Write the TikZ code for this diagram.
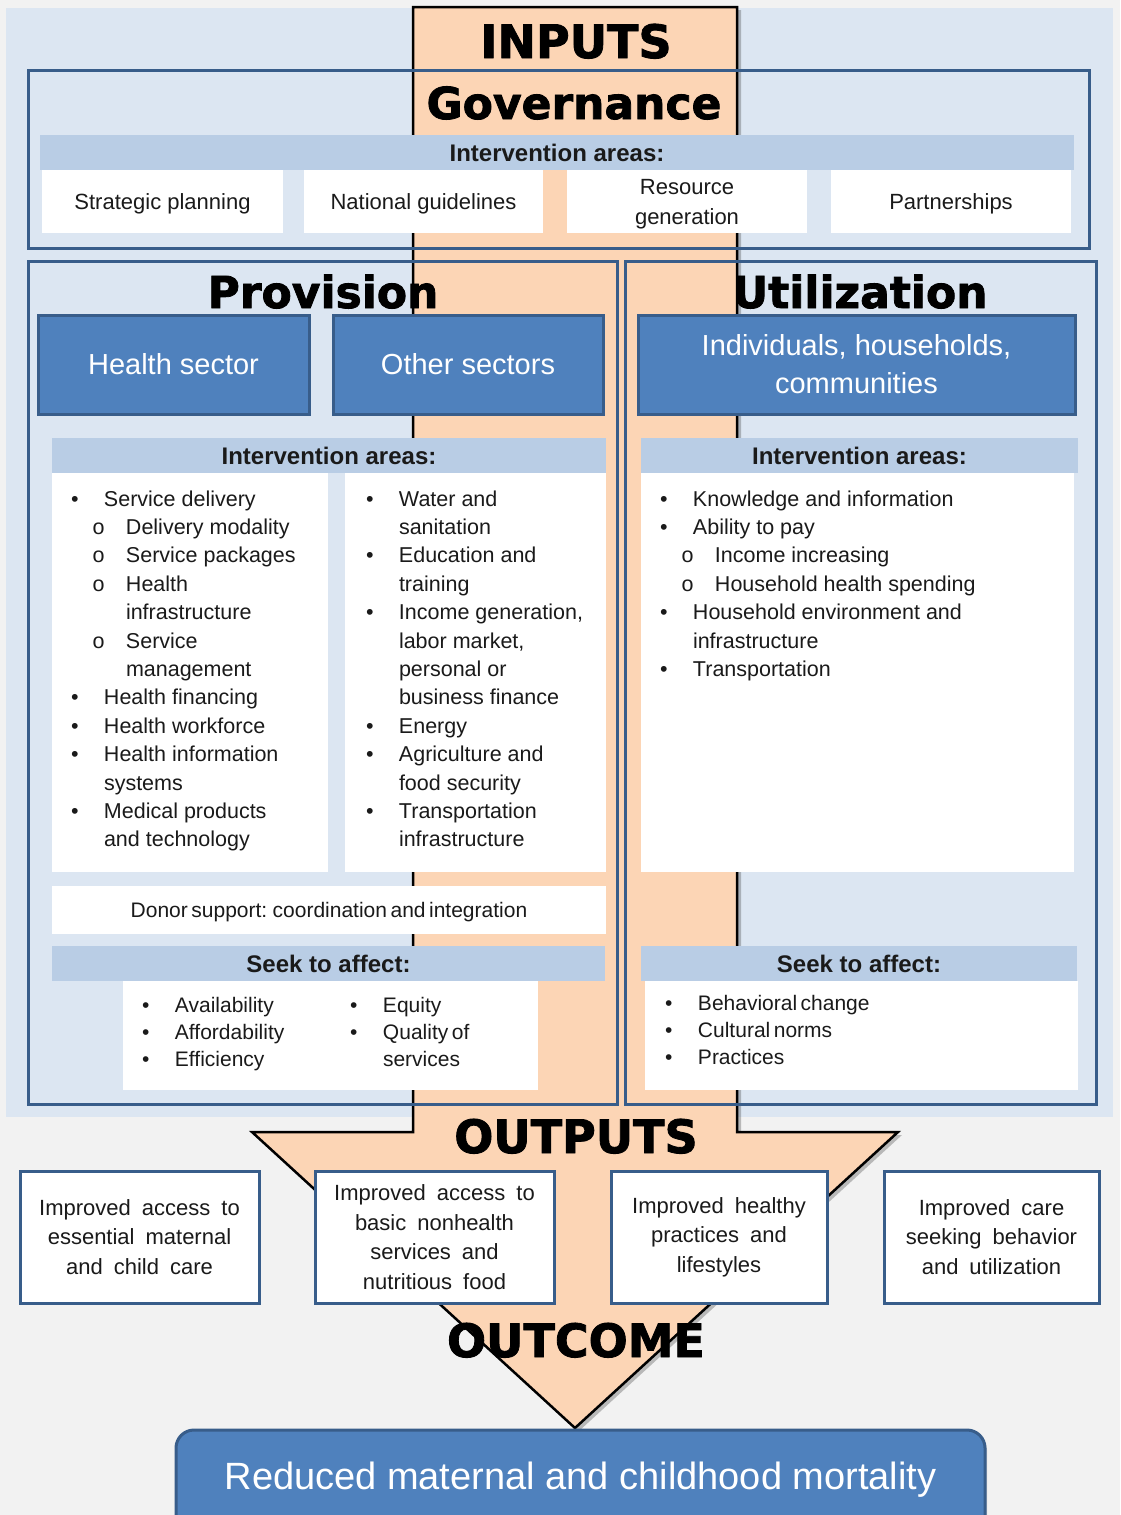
\documentclass[tikz,border=0pt]{standalone}
\usepackage{fontspec}
\setmainfont{Liberation Sans}
\newfontfamily\heavyfont{DejaVu Sans Bold}[FakeBold=1.8]
\newcommand\widesp{\spaceskip=11pt plus 1pt minus 1pt\relax}
\newcommand\tightsp{\spaceskip=3.5pt plus 1pt minus 1pt\relax}
\usetikzlibrary{shadows}
\definecolor{bggray}{HTML}{F2F2F2}
\definecolor{panelblue}{HTML}{DCE6F2}
\definecolor{arroworange}{HTML}{FCD5B5}
\definecolor{stripblue}{HTML}{B9CDE5}
\definecolor{darkblue}{HTML}{385D8A}
\definecolor{midblue}{HTML}{4F81BD}
\definecolor{inktext}{HTML}{1A1A1A}
\newcommand\lbu[1]{\makebox[33pt][l]{•}#1}
\newcommand\lsbu[1]{\hspace*{21.5pt}\makebox[33.5pt][l]{o}#1}
\newcommand\lcn[1]{\hspace*{33pt}#1}
\newcommand\lscn[1]{\hspace*{55pt}#1}
\newcommand\boxnode[6]{\node[#1, minimum width={(#4)-(#2)}, minimum height={(#5)-(#3)}] (#6) at ({((#2)+(#4))/2},{((#3)+(#5))/2})}
\begin{document}
\begin{tikzpicture}[x=1pt,y=-1pt,
  frame/.style={draw=darkblue, line width=3pt, inner sep=0pt, outer sep=0pt},
  bluebox/.style={fill=midblue, draw=darkblue, line width=3pt, text=white, font=\fontsize{29}{38}\selectfont, align=center, inner sep=0pt, outer sep=0pt, drop shadow={shadow xshift=2pt, shadow yshift=-2pt, opacity=.3}},
  strip/.style={fill=stripblue, inner sep=0pt, outer sep=0pt, text=inktext, font=\bfseries\fontsize{24}{24}\selectfont},
  wbox/.style={fill=white, inner sep=0pt, outer sep=0pt, align=center, text=inktext, text depth=0pt, font=\fontsize{22}{30}\selectfont},
  outbox/.style={fill=white, draw=darkblue, line width=3pt, inner sep=0pt, outer sep=0pt, align=center, text=inktext, font=\fontsize{22}{29.5}\selectfont\widesp, drop shadow={shadow xshift=2pt, shadow yshift=-2pt, opacity=.3}},
  heading/.style={anchor=base, inner sep=0pt, outer sep=0pt, font=\heavyfont\fontsize{44}{44}\selectfont},
  listtext/.style={anchor=base west, inner sep=0pt, outer sep=0pt, text=inktext, font=\fontsize{21.5}{28.4}\selectfont},
  seektext/.style={anchor=base west, inner sep=0pt, outer sep=0pt, text=inktext, font=\fontsize{21}{27}\selectfont\tightsp},
]
\useasboundingbox (0,0) rectangle (1120,1515);
% background and panel
\fill[bggray] (0,0) rectangle (1120,1515);
\fill[panelblue] (6,8) rectangle (1113,1117);
% big arrow
\path[fill=arroworange, draw=black, line width=2.5pt, line join=miter,
  drop shadow={shadow xshift=4pt, shadow yshift=-3pt, opacity=.35, fill=black!70}]
  (413,7) -- (737,7) -- (737,1132) -- (898,1132) -- (575,1428) -- (252,1132) -- (413,1132) -- cycle;

% governance
\boxnode{frame}{28}{70}{1089}{248}{govframe} {};
\boxnode{strip}{40}{135}{1074}{170}{govstrip} {Intervention areas:};
\boxnode{wbox}{42}{170}{283}{233}{gov1} {Strategic planning};
\boxnode{wbox}{304}{170}{543}{233}{gov2} {National guidelines};
\boxnode{wbox}{567}{170}{807}{233}{gov3} {Resource\\generation};
\boxnode{wbox}{831}{170}{1071}{233}{gov4} {Partnerships};

% provision & utilization frames
\boxnode{frame}{28}{261}{617}{1104}{provframe} {};
\boxnode{frame}{625}{261}{1096}{1104}{utilframe} {};

\boxnode{bluebox}{38}{315}{309}{414}{health} {Health sector};
\boxnode{bluebox}{333}{315}{603}{414}{other} {Other sectors};
\boxnode{bluebox}{638}{315}{1075}{414}{indiv} {Individuals, households,\\communities};

\boxnode{strip}{52}{438}{606}{473}{provstrip} {Intervention areas:};
\boxnode{wbox}{52}{473}{328}{872}{provleft} {};
\boxnode{wbox}{345}{473}{606}{872}{provright} {};
\boxnode{strip}{641}{438}{1078}{473}{utilstrip} {Intervention areas:};
\boxnode{wbox}{641}{473}{1074}{872}{utilwhite} {};

\node[listtext] (healthlist) at (71,506) {\begin{tabular}[t]{@{}l@{}}
\lbu{Service delivery}\\
\lsbu{Delivery modality}\\
\lsbu{Service packages}\\
\lsbu{Health}\\
\lscn{infrastructure}\\
\lsbu{Service}\\
\lscn{management}\\
\lbu{Health financing}\\
\lbu{Health workforce}\\
\lbu{Health information}\\
\lcn{systems}\\
\lbu{Medical products}\\
\lcn{and technology}
\end{tabular}};

\node[listtext] (otherlist) at (366,506) {\begin{tabular}[t]{@{}l@{}}
\lbu{Water and}\\
\lcn{sanitation}\\
\lbu{Education and}\\
\lcn{training}\\
\lbu{Income generation,}\\
\lcn{labor market,}\\
\lcn{personal or}\\
\lcn{business finance}\\
\lbu{Energy}\\
\lbu{Agriculture and}\\
\lcn{food security}\\
\lbu{Transportation}\\
\lcn{infrastructure}
\end{tabular}};

\node[listtext] (utillist) at (660,506) {\begin{tabular}[t]{@{}l@{}}
\lbu{Knowledge and information}\\
\lbu{Ability to pay}\\
\lsbu{Income increasing}\\
\lsbu{Household health spending}\\
\lbu{Household environment and}\\
\lcn{infrastructure}\\
\lbu{Transportation}
\end{tabular}};

\boxnode{wbox}{52}{886}{606}{934}{donor} {\fontsize{21}{21}\selectfont\tightsp Donor support: coordination and integration};

\boxnode{strip}{52}{946}{605}{981}{provseek} {Seek to affect:};
\boxnode{wbox}{123}{981}{538}{1090}{provseekbox} {};
\boxnode{strip}{641}{946}{1077}{981}{utilseek} {Seek to affect:};
\boxnode{wbox}{645}{981}{1078}{1090}{utilseekbox} {};

\node[seektext] (seekA) at (142,1012) {\begin{tabular}[t]{@{}l@{}}
\lbu{Availability}\\
\lbu{Affordability}\\
\lbu{Efficiency}
\end{tabular}};
\node[seektext] (seekB) at (350,1012) {\begin{tabular}[t]{@{}l@{}}
\lbu{Equity}\\
\lbu{Quality of}\\
\lcn{services}
\end{tabular}};
\node[seektext] (seekC) at (665,1010) {\begin{tabular}[t]{@{}l@{}}
\lbu{Behavioral change}\\
\lbu{Cultural norms}\\
\lbu{Practices}
\end{tabular}};

% outputs
\boxnode{outbox}{20}{1171}{259}{1303}{out1} {Improved access to\\essential maternal\\and child care};
\boxnode{outbox}{315}{1171}{554}{1303}{out2} {Improved access to\\basic nonhealth\\services and\\nutritious food};
\boxnode{outbox}{611}{1171}{827}{1303}{out3} {Improved healthy\\practices and\\lifestyles};
\boxnode{outbox}{884}{1171}{1099}{1303}{out4} {Improved care\\seeking behavior\\and utilization};

% outcome
\boxnode{bluebox, rounded corners=18pt}{176}{1430}{985}{1550}{mortality} {};
\node[text=white, font=\fontsize{38}{38}\selectfont, inner sep=0pt] (mortalitytext) at (580.5,1480) {Reduced maternal and childhood mortality};

% headings
\node[heading, font=\heavyfont\fontsize{46}{46}\selectfont] (inputs) at (576,58) {INPUTS};
\node[heading] (governance) at (574,119) {Governance};
\node[heading] (provision) at (323,308) {Provision};
\node[heading] (utilization) at (860,308) {Utilization};
\node[heading, font=\heavyfont\fontsize{46}{46}\selectfont] (outputs) at (576,1153) {OUTPUTS};
\node[heading, font=\heavyfont\fontsize{46}{46}\selectfont] (outcome) at (576,1357) {OUTCOME};
\end{tikzpicture}
\end{document}
